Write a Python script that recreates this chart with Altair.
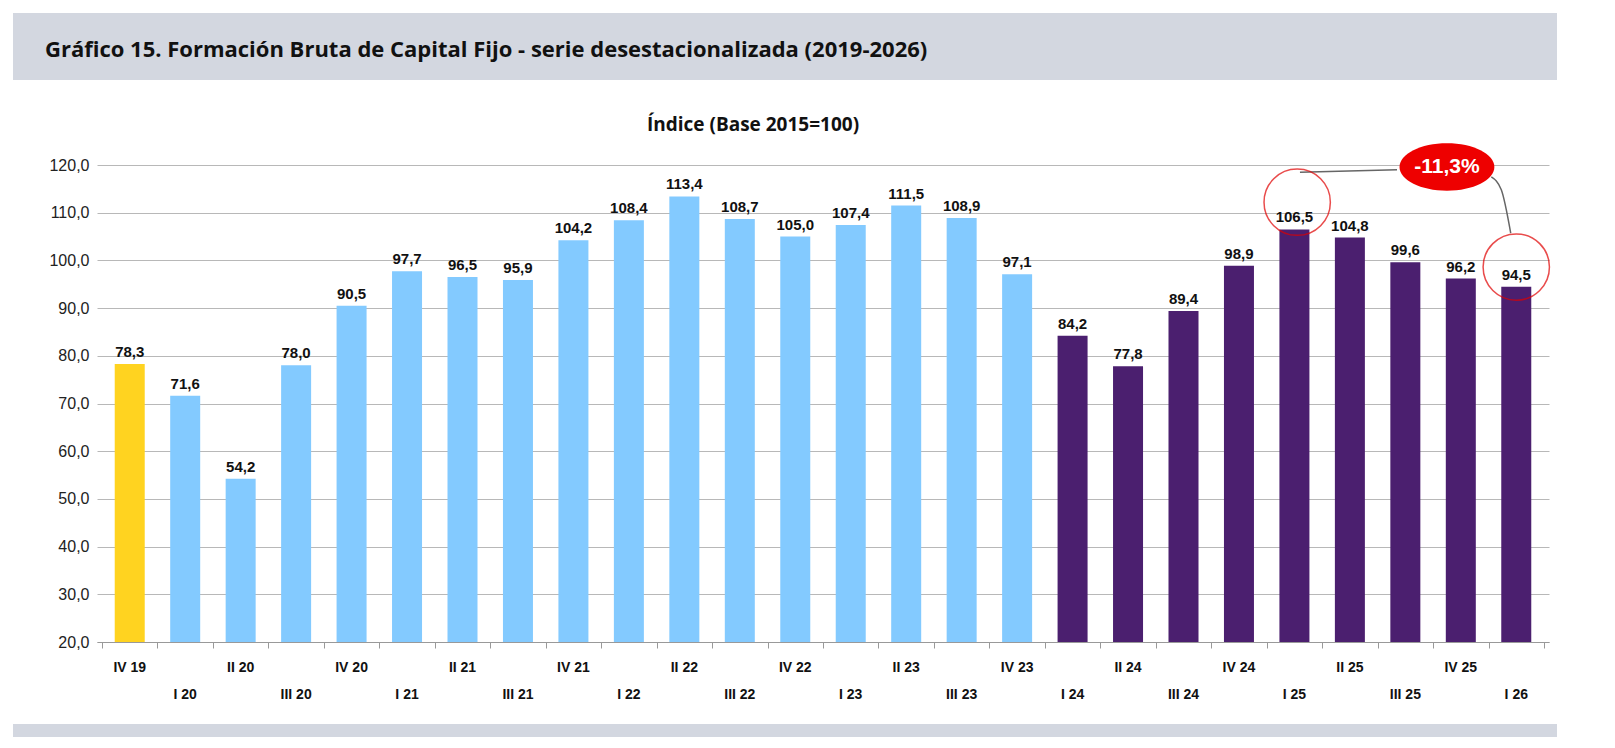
import altair as alt
import pandas as pd

quarters = ["IV 19", "I 20", "II 20", "III 20", "IV 20", "I 21", "II 21", "III 21",
            "IV 21", "I 22", "II 22", "III 22", "IV 22", "I 23", "II 23", "III 23",
            "IV 23", "I 24", "II 24", "III 24", "IV 24", "I 25", "II 25", "III 25",
            "IV 25", "I 26"]
values = [78.3, 71.6, 54.2, 78.0, 90.5, 97.7, 96.5, 95.9, 104.2, 108.4, 113.4, 108.7,
          105.0, 107.4, 111.5, 108.9, 97.1, 84.2, 77.8, 89.4, 98.9, 106.5, 104.8,
          99.6, 96.2, 94.5]
groups = ["base"] + ["pre"] * 16 + ["post"] * 9

W, H = 1452, 477
FONT = "Liberation Sans"

df = pd.DataFrame({"q": quarters, "v": values, "g": groups})
df["i"] = range(len(df))
df["row"] = df["i"] % 2
df["lab"] = df["v"].map(lambda v: f"{v:.1f}".replace(".", ","))

x = alt.X("i:Q", scale=alt.Scale(domain=[-0.5, 25.5], nice=False, zero=False),
          axis=alt.Axis(values=[k + 0.5 for k in range(-1, 26)], labels=False, title=None,
                        grid=False, tickSize=6, domainColor="#999", tickColor="#999"))
y = alt.Y("v:Q", scale=alt.Scale(domain=[20, 120], nice=False, zero=False),
          axis=alt.Axis(values=list(range(20, 121, 10)), title=None, labelFontSize=16,
                        labelFont=FONT, labelColor="#222", labelPadding=8,
                        labelExpr="replace(format(datum.value, '.1f'), '.', ',')",
                        gridColor="#b8b8b8", domain=False, ticks=False))

base = alt.Chart(df)
bars = base.mark_bar(size=30).encode(
    x=x, y=y, y2=alt.datum(20),
    color=alt.Color("g:N", legend=None,
                    scale=alt.Scale(domain=["base", "pre", "post"],
                                    range=["#FFD320", "#83CAFF", "#4B1F6F"])))
vals = base.mark_text(dy=-12, font=FONT, fontSize=15, fontWeight="bold", color="#111").encode(
    x="i:Q", y="v:Q", text="lab:N")
xlab_style = dict(font=FONT, fontSize=14, fontWeight="bold", color="#111")
xlabs0 = base.transform_filter("datum.row == 0").mark_text(**xlab_style).encode(
    x="i:Q", y=alt.value(H + 26), text="q:N")
xlabs1 = base.transform_filter("datum.row == 1").mark_text(**xlab_style).encode(
    x="i:Q", y=alt.value(H + 53), text="q:N")

# header band, subtitle, footer band (pixel positions relative to the plot area)
deco = pd.DataFrame({"k": [0]})
header = alt.Chart(deco).mark_rect(color="#D3D7E0").encode(
    x=alt.value(-84), x2=alt.value(W + 8), y=alt.value(-152), y2=alt.value(-85))
title = alt.Chart(deco).mark_text(
    text="Gráfico 15.  Formación Bruta de Capital Fijo - serie desestacionalizada (2019-2026)",
    font="Open Sans", fontSize=22, fontWeight="bold", align="left", color="#111").encode(
    x=alt.value(-52), y=alt.value(-115))
sub = alt.Chart(deco).mark_text(text="Índice (Base 2015=100)", font="Open Sans", fontSize=19,
                                fontWeight="bold", color="#111").encode(
    x=alt.value(W / 2 - 70), y=alt.value(-40))
footer = alt.Chart(deco).mark_rect(color="#D3D7E0").encode(
    x=alt.value(-84), x2=alt.value(W + 8), y=alt.value(H + 82), y2=alt.value(H + 95))

# annotation
links1 = pd.DataFrame({"i": [22.85, 21.1], "v": [119.0, 118.5]})
links2 = pd.DataFrame({"i": [24.55, 24.73, 24.9], "v": [117.5, 114.8, 105.7]})
line1 = alt.Chart(links1).mark_line(color="#666", strokeWidth=1.5).encode(x="i:Q", y="v:Q")
line2 = alt.Chart(links2).mark_line(color="#666", strokeWidth=1.5, interpolate="monotone").encode(
    x="i:Q", y="v:Q")
circles = alt.Chart(pd.DataFrame({"i": [21.05, 25.0], "v": [112.2, 98.6]})).mark_point(
    shape="circle", size=4400, color="#E00000", strokeWidth=1.5, filled=False).encode(
    x="i:Q", y="v:Q")
ell = pd.DataFrame({"i": [23.75], "v": [119.6], "t": ["-11,3%"]})
bubble = alt.Chart(ell).mark_point(
    shape="M-1,0 A1,0.5 0 1,1 1,0 A1,0.5 0 1,1 -1,0 Z", size=9000, filled=True,
    color="#EE0000", opacity=1).encode(x="i:Q", y="v:Q")
btext = alt.Chart(ell).mark_text(font=FONT, fontSize=21, fontWeight="bold", color="white").encode(
    x="i:Q", y="v:Q", text="t:N")

chart = alt.layer(header, title, sub, footer, bars, vals, xlabs0, xlabs1, line1, line2, circles,
                  bubble, btext).properties(width=W, height=H, background="white").configure_view(
    stroke=None)

chart.save("out.html", embed_options={"renderer": "svg", "actions": False})
